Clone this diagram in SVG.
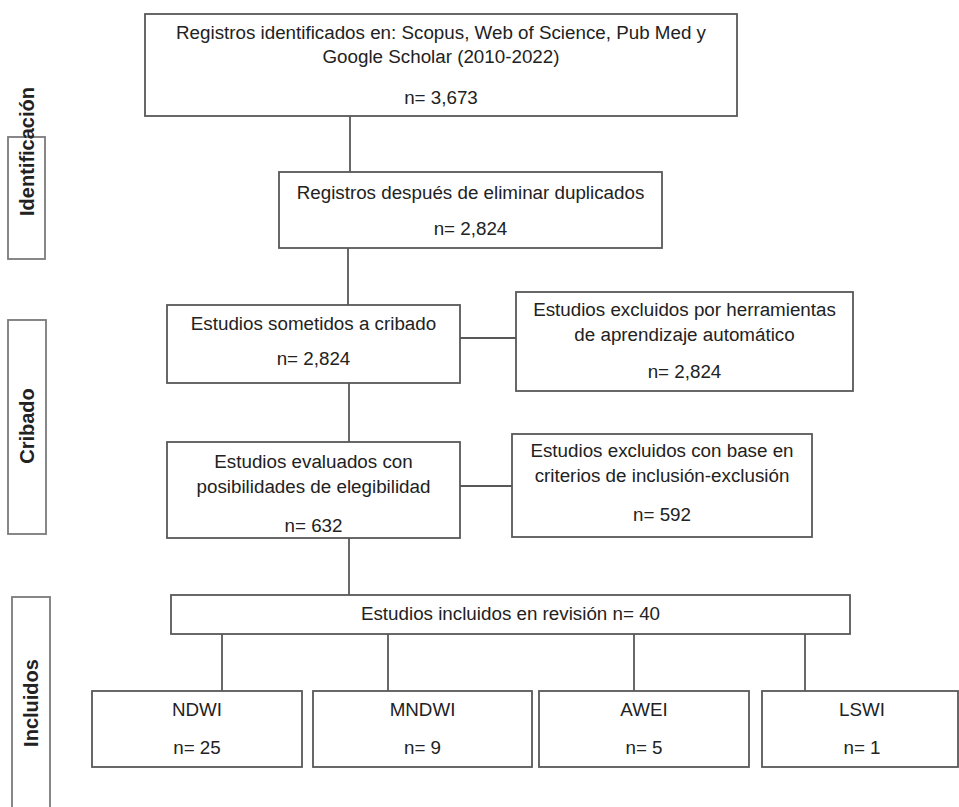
<svg xmlns="http://www.w3.org/2000/svg" width="959" height="807" viewBox="0 0 959 807">
<style>
.box{fill:#fff;stroke:#585858;stroke-width:1.8}
.side{fill:#fff;stroke:#7a7a7a;stroke-width:1.8}
.con{stroke:#585858;stroke-width:1.8;fill:none}
text{font-family:"Liberation Sans",Arial,sans-serif;fill:#222}
.t{font-size:18.8px;text-anchor:middle}
.s{font-size:20px;font-weight:bold;text-anchor:middle}
</style>
<rect width="959" height="807" fill="#fff"/>
<g id="connectors">
<line class="con" x1="350" y1="116" x2="350" y2="172"/>
<line class="con" x1="348" y1="248" x2="348" y2="305"/>
<line class="con" x1="460" y1="338" x2="516" y2="338"/>
<line class="con" x1="349" y1="383" x2="349" y2="442"/>
<line class="con" x1="460" y1="486" x2="512" y2="486"/>
<line class="con" x1="349" y1="538" x2="349" y2="595"/>
<line class="con" x1="222" y1="634" x2="222" y2="691"/>
<line class="con" x1="388" y1="634" x2="388" y2="691"/>
<line class="con" x1="634" y1="634" x2="634" y2="691"/>
<line class="con" x1="805" y1="634" x2="805" y2="691"/>
</g>
<g id="side-identificacion">
<rect class="side" x="8" y="137" width="37" height="122"/>
<text class="s" transform="translate(34,151.5) rotate(-90)">Identificación</text>
</g>
<g id="side-cribado">
<rect class="side" x="8" y="320" width="38" height="214"/>
<text class="s" transform="translate(34,426) rotate(-90)">Cribado</text>
</g>
<g id="side-incluidos">
<rect class="side" x="12" y="597" width="38" height="215"/>
<text class="s" transform="translate(38,703) rotate(-90)">Incluidos</text>
</g>
<g id="n1">
<rect class="box" x="145" y="14" width="592" height="102"/>
<text class="t" x="441" y="39">Registros identificados en: Scopus, Web of Science, Pub Med y</text>
<text class="t" x="441" y="63">Google Scholar (2010-2022)</text>
<text class="t" x="441" y="104">n= 3,673</text>
</g>
<g id="n2">
<rect class="box" x="279" y="172" width="383" height="76"/>
<text class="t" x="470.5" y="199">Registros después de eliminar duplicados</text>
<text class="t" x="470.5" y="235">n= 2,824</text>
</g>
<g id="n3">
<rect class="box" x="167" y="305" width="293" height="78"/>
<text class="t" x="313.5" y="330">Estudios sometidos a cribado</text>
<text class="t" x="313.5" y="365">n= 2,824</text>
</g>
<g id="n3x">
<rect class="box" x="516" y="292" width="337" height="99"/>
<text class="t" x="684.5" y="316">Estudios excluidos por herramientas</text>
<text class="t" x="684.5" y="341">de aprendizaje automático</text>
<text class="t" x="684.5" y="378">n= 2,824</text>
</g>
<g id="n4">
<rect class="box" x="167" y="442" width="293" height="96"/>
<text class="t" x="313.5" y="468">Estudios evaluados con</text>
<text class="t" x="313.5" y="493">posibilidades de elegibilidad</text>
<text class="t" x="313.5" y="532">n= 632</text>
</g>
<g id="n4x">
<rect class="box" x="512" y="434" width="300" height="103"/>
<text class="t" x="662" y="457">Estudios excluidos con base en</text>
<text class="t" x="662" y="482">criterios de inclusión-exclusión</text>
<text class="t" x="662" y="521">n= 592</text>
</g>
<g id="n5">
<rect class="box" x="171" y="595" width="679" height="39"/>
<text class="t" x="510.5" y="620">Estudios incluidos en revisión n= 40</text>
</g>
<g id="ndwi">
<rect class="box" x="92" y="691" width="210" height="76"/>
<text class="t" x="197" y="716">NDWI</text>
<text class="t" x="197" y="754">n= 25</text>
</g>
<g id="mndwi">
<rect class="box" x="313" y="691" width="219" height="76"/>
<text class="t" x="422.5" y="716">MNDWI</text>
<text class="t" x="422.5" y="754">n= 9</text>
</g>
<g id="awei">
<rect class="box" x="539" y="691" width="210" height="76"/>
<text class="t" x="644" y="716">AWEI</text>
<text class="t" x="644" y="754">n= 5</text>
</g>
<g id="lswi">
<rect class="box" x="762" y="691" width="196" height="76"/>
<text class="t" x="862" y="716">LSWI</text>
<text class="t" x="862" y="754">n= 1</text>
</g>
</svg>
